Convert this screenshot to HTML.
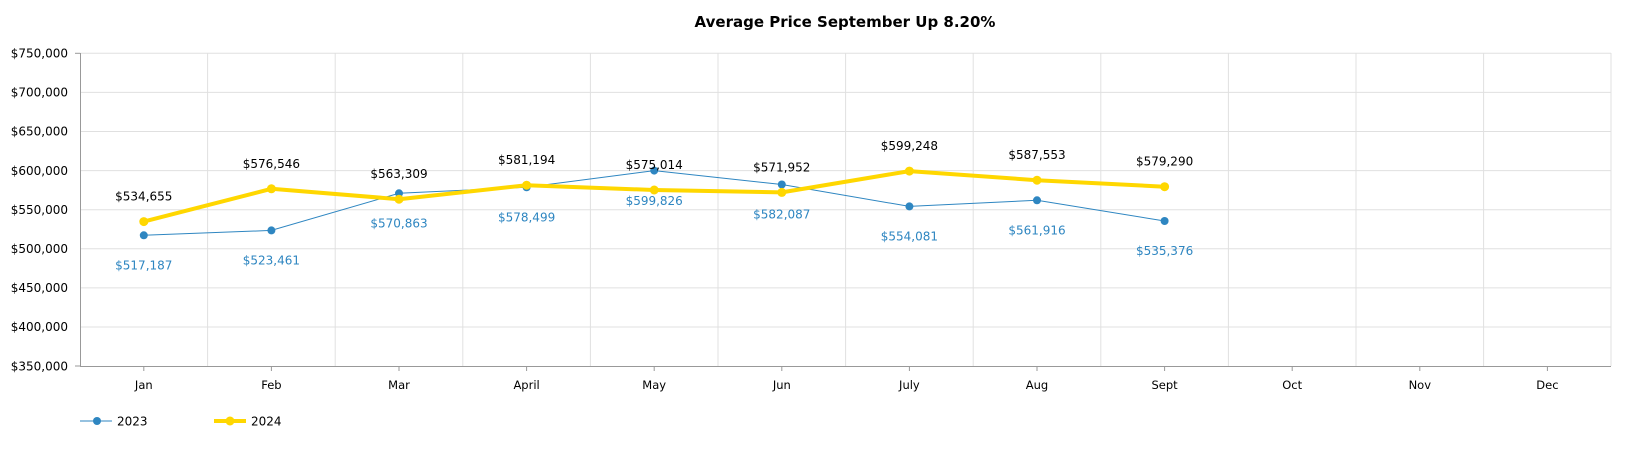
<!DOCTYPE html>
<html><head><meta charset="utf-8"><style>
body{margin:0;background:#fff;}
svg{display:block;font-family:"DejaVu Sans",Verdana,sans-serif;}
</style></head><body>
<svg width="1632" height="450" viewBox="0 0 1632 450">
<text x="845" y="27" font-size="15" font-weight="bold" text-anchor="middle" fill="#000">Average Price September Up 8.20%</text>
<g stroke="#e0e0e0" stroke-width="1">
<line x1="80" x2="1611" y1="53.3" y2="53.3"/><line x1="80" x2="1611" y1="92.4" y2="92.4"/>
<line x1="80" x2="1611" y1="131.5" y2="131.5"/><line x1="80" x2="1611" y1="170.6" y2="170.6"/>
<line x1="80" x2="1611" y1="209.7" y2="209.7"/><line x1="80" x2="1611" y1="248.8" y2="248.8"/>
<line x1="80" x2="1611" y1="287.9" y2="287.9"/><line x1="80" x2="1611" y1="327" y2="327"/>
<line y1="53" y2="366" x1="207.6" x2="207.6"/><line y1="53" y2="366" x1="335.2" x2="335.2"/>
<line y1="53" y2="366" x1="462.8" x2="462.8"/><line y1="53" y2="366" x1="590.4" x2="590.4"/>
<line y1="53" y2="366" x1="718" x2="718"/><line y1="53" y2="366" x1="845.6" x2="845.6"/>
<line y1="53" y2="366" x1="973.2" x2="973.2"/><line y1="53" y2="366" x1="1100.8" x2="1100.8"/>
<line y1="53" y2="366" x1="1228.4" x2="1228.4"/><line y1="53" y2="366" x1="1356" x2="1356"/>
<line y1="53" y2="366" x1="1483.6" x2="1483.6"/><line y1="53" y2="366" x1="1611" x2="1611"/>
</g>
<g stroke="#999" stroke-width="1">
<line x1="80.5" x2="80.5" y1="53" y2="366"/><line x1="80" x2="1611" y1="366.5" y2="366.5"/>
<line x1="75" x2="80" y1="53.3" y2="53.3"/><line x1="75" x2="80" y1="366" y2="366"/>
<line x1="143.8" x2="143.8" y1="366" y2="371"/><line x1="271.4" x2="271.4" y1="366" y2="371"/>
<line x1="399" x2="399" y1="366" y2="371"/><line x1="526.6" x2="526.6" y1="366" y2="371"/>
<line x1="654.2" x2="654.2" y1="366" y2="371"/><line x1="781.8" x2="781.8" y1="366" y2="371"/>
<line x1="909.4" x2="909.4" y1="366" y2="371"/><line x1="1037" x2="1037" y1="366" y2="371"/>
<line x1="1164.6" x2="1164.6" y1="366" y2="371"/><line x1="1292.2" x2="1292.2" y1="366" y2="371"/>
<line x1="1419.8" x2="1419.8" y1="366" y2="371"/><line x1="1547.4" x2="1547.4" y1="366" y2="371"/>
</g>
<g font-size="12" fill="#000" text-anchor="end">
<text x="68" y="57.5">$750,000</text><text x="68" y="96.6">$700,000</text>
<text x="68" y="135.7">$650,000</text><text x="68" y="174.8">$600,000</text>
<text x="68" y="213.9">$550,000</text><text x="68" y="253">$500,000</text>
<text x="68" y="292.1">$450,000</text><text x="68" y="331.2">$400,000</text>
<text x="68" y="370.3">$350,000</text>
</g>
<g font-size="11.5" fill="#000" text-anchor="middle">
<text x="143.8" y="389">Jan</text><text x="271.4" y="389">Feb</text><text x="399" y="389">Mar</text>
<text x="526.6" y="389">April</text><text x="654.2" y="389">May</text><text x="781.8" y="389">Jun</text>
<text x="909.4" y="389">July</text><text x="1037" y="389">Aug</text><text x="1164.6" y="389">Sept</text>
<text x="1292.2" y="389">Oct</text><text x="1419.8" y="389">Nov</text><text x="1547.4" y="389">Dec</text>
</g>
<polyline fill="none" stroke="#2e86c1" stroke-width="1" points="143.8,235.3 271.4,230.4 399,193.3 526.6,187.3 654.2,170.6 781.8,184.5 909.4,206.4 1037,200.3 1164.6,221"/>
<g fill="#2e86c1">
<circle cx="143.8" cy="235.3" r="4"/><circle cx="271.4" cy="230.4" r="4"/><circle cx="399" cy="193.3" r="4"/>
<circle cx="526.6" cy="187.3" r="4"/><circle cx="654.2" cy="170.6" r="4"/><circle cx="781.8" cy="184.5" r="4"/>
<circle cx="909.4" cy="206.4" r="4"/><circle cx="1037" cy="200.3" r="4"/><circle cx="1164.6" cy="221" r="4"/>
</g>
<polyline fill="none" stroke="#ffd700" stroke-width="4" stroke-linejoin="round" points="143.8,221.6 271.4,188.8 399,199.2 526.6,185.2 654.2,190 781.8,192.4 909.4,171.1 1037,180.2 1164.6,186.7"/>
<g fill="#ffd700">
<circle cx="143.8" cy="221.6" r="4.5"/><circle cx="271.4" cy="188.8" r="4.5"/><circle cx="399" cy="199.2" r="4.5"/>
<circle cx="526.6" cy="185.2" r="4.5"/><circle cx="654.2" cy="190" r="4.5"/><circle cx="781.8" cy="192.4" r="4.5"/>
<circle cx="909.4" cy="171.1" r="4.5"/><circle cx="1037" cy="180.2" r="4.5"/><circle cx="1164.6" cy="186.7" r="4.5"/>
</g>
<g font-size="12" fill="#000" text-anchor="middle">
<text x="143.8" y="200.6">$534,655</text><text x="271.4" y="167.8">$576,546</text><text x="399" y="178.2">$563,309</text>
<text x="526.6" y="164.2">$581,194</text><text x="654.2" y="169">$575,014</text><text x="781.8" y="171.4">$571,952</text>
<text x="909.4" y="150.1">$599,248</text><text x="1037" y="159.2">$587,553</text><text x="1164.6" y="165.7">$579,290</text>
</g>
<g font-size="12" fill="#2e86c1" text-anchor="middle">
<text x="143.8" y="269.5">$517,187</text><text x="271.4" y="264.5">$523,461</text><text x="399" y="227.5">$570,863</text>
<text x="526.6" y="221.5">$578,499</text><text x="654.2" y="204.8">$599,826</text><text x="781.8" y="218.7">$582,087</text>
<text x="909.4" y="240.6">$554,081</text><text x="1037" y="234.5">$561,916</text><text x="1164.6" y="255.2">$535,376</text>
</g>
<line x1="80" x2="112" y1="421" y2="421" stroke="#2e86c1" stroke-width="1"/>
<circle cx="97" cy="421" r="4" fill="#2e86c1"/>
<text x="117" y="425.5" font-size="12" fill="#000">2023</text>
<line x1="214" x2="246" y1="421" y2="421" stroke="#ffd700" stroke-width="4"/>
<circle cx="230" cy="421" r="4.5" fill="#ffd700"/>
<text x="251" y="425.5" font-size="12" fill="#000">2024</text>
</svg>
</body></html>
